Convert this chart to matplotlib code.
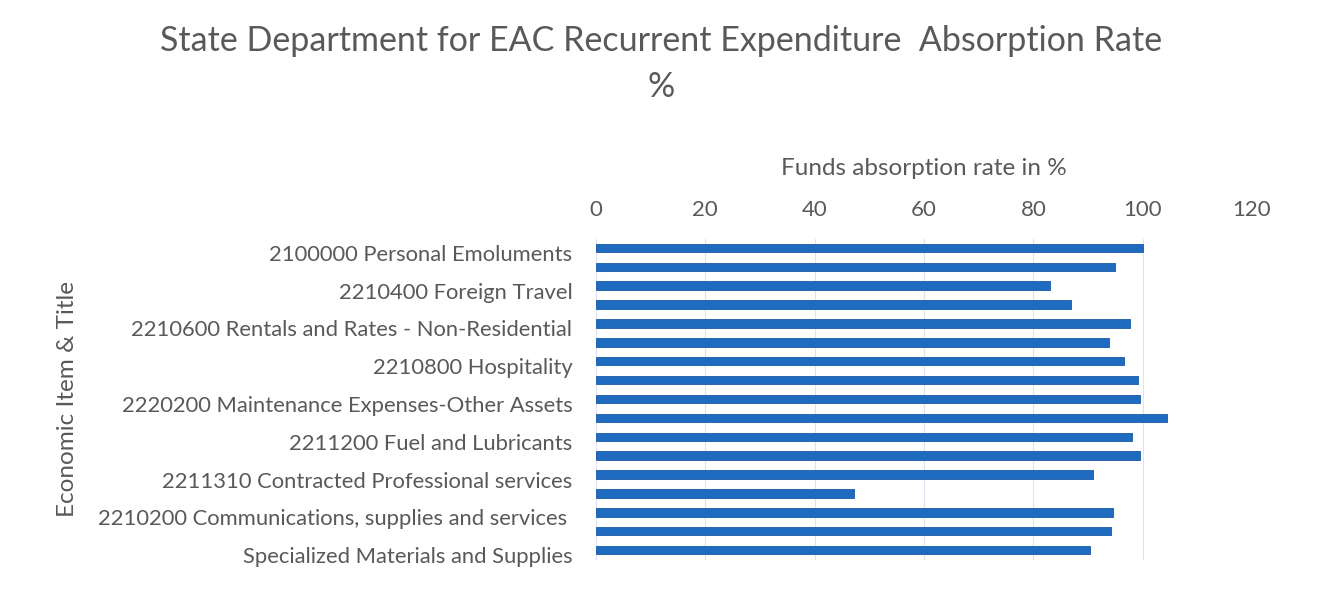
import matplotlib
matplotlib.use("Agg")
import matplotlib.pyplot as plt
from matplotlib.transforms import ScaledTranslation
import numpy as np

plt.rcParams['font.family'] = ['Lato', 'DejaVu Sans']

labels = [
    "2100000 Personal Emoluments", "",
    "2210400 Foreign Travel", "",
    "2210600 Rentals and Rates - Non-Residential", "",
    "2210800 Hospitality", "",
    "2220200 Maintenance Expenses-Other Assets", "",
    "2211200 Fuel and Lubricants", "",
    "2211310 Contracted Professional services", "",
    "2210200 Communications, supplies and services ", "",
    "Specialized Materials and Supplies",
]
rates = [100.1, 95.0, 83.0, 86.9, 97.7, 93.9, 96.5, 99.2, 99.5,
         104.4, 98.0, 99.6, 91.0, 47.2, 94.6, 94.2, 90.4]
xticks = [0, 20, 40, 60, 80, 100, 120]

title_line1 = "State Department for EAC Recurrent Expenditure  Absorption Rate"
title_line2 = "%"
xlabel = "Funds absorption rate in %"
ylabel = "Economic Item & Title"

txt = '#595959'
W, H = 1322, 594
fig = plt.figure(figsize=(W / 100, H / 100), dpi=100)
top_px, bot_px = 238.5, 559.5
ax = fig.add_axes([596 / W, 1 - bot_px / H, (1252 - 596) / W, (bot_px - top_px) / H])

y = np.arange(len(rates))
ax.barh(y, rates, height=0.45, color='#1F6BC0', edgecolor='#1A5AA6', linewidth=0.6, zorder=3)
ax.set_ylim(len(rates) - 0.5, -0.5)
ax.set_xlim(0, 120)
ax.set_xticks(xticks)
ax.xaxis.tick_top()
ax.xaxis.set_label_position('top')
ax.tick_params(axis='x', length=0, pad=13.5, labelsize=16, labelcolor=txt)
ax.set_yticks(y)
ax.set_yticklabels(labels)
ax.tick_params(axis='y', length=0, pad=17, labelsize=15.8, labelcolor=txt)
off = ScaledTranslation(0, -5 / 100, fig.dpi_scale_trans)
for lbl in ax.get_yticklabels():
    lbl.set_transform(lbl.get_transform() + off)
ax.grid(axis='x', color='#DCE3EF', linewidth=0.8, zorder=0)
for s in ax.spines.values():
    s.set_visible(False)
ax.set_xlabel(xlabel, fontsize=17.5, color=txt, labelpad=18)
ax.set_ylabel(ylabel, fontsize=17.5, color=txt, labelpad=14)

fig.text(0.5, 1 - 41 / H, title_line1, ha='center', va='center', fontsize=24.5, color=txt)
fig.text(0.5, 1 - 87 / H, title_line2, ha='center', va='center', fontsize=24.5, color=txt)

fig.savefig("out.png", dpi=100)
